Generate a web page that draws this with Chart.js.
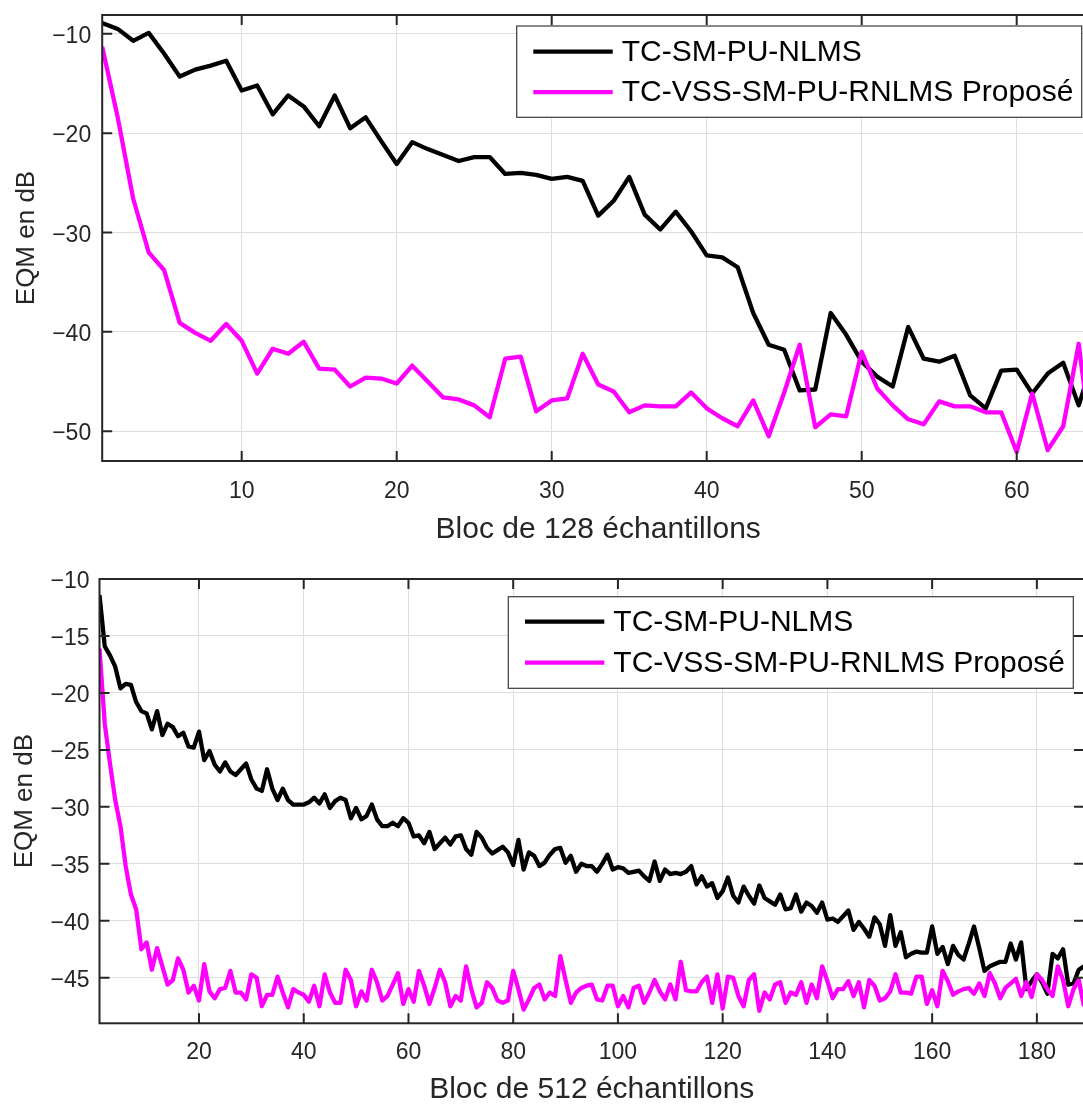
<!DOCTYPE html>
<html>
<head>
<meta charset="utf-8">
<script src="https://cdn.jsdelivr.net/npm/chart.js@4.4.1/dist/chart.umd.min.js"></script>
<style>
  html, body { margin: 0; padding: 0; background: #ffffff; overflow: hidden; }
  #page { position: relative; width: 1083px; height: 1104px; overflow: hidden; background: #ffffff; }
  #page canvas { position: absolute; left: 0; }
  #c128 { top: 0; }
  #c512 { top: 550px; }
</style>
</head>
<body>
<div id="page">
  <canvas id="c128" width="1100" height="550"></canvas>
  <canvas id="c512" width="1100" height="574"></canvas>
</div>
<script>
// Series names, axis titles and tick values
const seriesNames = ['TC-SM-PU-NLMS', 'TC-VSS-SM-PU-RNLMS Proposé'];
const yTitle = 'EQM en dB';
const xTitle128 = 'Bloc de 128 échantillons';
const xTitle512 = 'Bloc de 512 échantillons';

const ticksX128 = [10, 20, 30, 40, 50, 60];
const ticksY128 = [-10, -20, -30, -40, -50];
const ticksX512 = [20, 40, 60, 80, 100, 120, 140, 160, 180];
const ticksY512 = [-10, -15, -20, -25, -30, -35, -40, -45];

// EQM (dB) per block, blocks of 128 samples
const eqm128Nlms = [
  -8.9, -9.5, -10.7, -9.9, -12.0, -14.3, -13.6, -13.2, -12.7, -15.7,
  -15.2, -18.1, -16.2, -17.3, -19.3, -16.2, -19.5, -18.4, -20.8, -23.1,
  -20.9, -21.6, -22.2, -22.8, -22.4, -22.4, -24.1, -24.0, -24.2, -24.6,
  -24.4, -24.8, -28.3, -26.8, -24.4, -28.2, -29.7, -27.9, -29.9, -32.3,
  -32.5, -33.5, -38.1, -41.3, -41.8, -45.9, -45.8, -38.1, -40.3, -43.0,
  -44.5, -45.5, -39.5, -42.7, -43.0, -42.4, -46.4, -47.7, -43.9, -43.8,
  -46.2, -44.2, -43.1, -47.4, -42.5
];
const eqm128Rnlms = [
  -11.3, -18.4, -26.6, -32.0, -33.8, -39.1, -40.1, -40.9, -39.2, -40.9,
  -44.2, -41.7, -42.2, -41.0, -43.7, -43.8, -45.5, -44.6, -44.7, -45.2,
  -43.4, -45.0, -46.6, -46.8, -47.4, -48.6, -42.7, -42.5, -48.0, -46.9,
  -46.7, -42.2, -45.3, -46.0, -48.1, -47.4, -47.5, -47.5, -46.1, -47.7,
  -48.7, -49.5, -46.9, -50.5, -46.1, -41.3, -49.6, -48.3, -48.5, -42.0,
  -45.7, -47.4, -48.8, -49.3, -47.0, -47.5, -47.5, -48.1, -48.1, -52.1,
  -46.2, -51.9, -49.5, -41.2, -53.5
];

// EQM (dB) per block, blocks of 512 samples
const eqm512Nlms = [
  -11.4, -15.9, -16.7, -17.7, -19.6, -19.2, -19.3, -20.8, -21.6, -21.8,
  -23.2, -21.6, -23.7, -22.7, -23.0, -23.8, -23.5, -24.7, -24.8, -23.4,
  -25.9, -25.1, -26.3, -26.9, -26.1, -26.9, -27.2, -26.7, -26.2, -27.6,
  -28.4, -28.6, -26.7, -28.4, -29.4, -28.4, -29.4, -29.8, -29.8, -29.8,
  -29.6, -29.2, -29.7, -28.9, -30.1, -29.5, -29.2, -29.4, -31.0, -30.1,
  -31.1, -30.8, -29.8, -31.1, -31.7, -31.7, -31.4, -31.7, -31.0, -31.4,
  -32.6, -32.5, -33.2, -32.2, -33.7, -33.2, -32.7, -33.3, -32.6, -32.5,
  -33.7, -34.2, -32.2, -32.7, -33.6, -34.1, -33.8, -33.5, -34.0, -35.1,
  -32.9, -35.5, -34.0, -34.3, -35.2, -34.9, -34.2, -33.7, -33.6, -34.9,
  -34.3, -35.7, -35.0, -35.2, -35.2, -35.7, -35.0, -34.2, -35.5, -35.3,
  -35.4, -35.8, -35.7, -35.6, -36.1, -36.5, -34.8, -36.5, -35.5, -35.9,
  -35.8, -35.9, -35.7, -35.2, -36.8, -36.1, -37.0, -36.7, -38.0, -37.4,
  -36.2, -37.8, -38.4, -37.0, -37.8, -38.5, -36.9, -38.0, -38.3, -38.6,
  -37.7, -39.0, -38.9, -37.7, -39.2, -38.4, -38.7, -39.3, -38.4, -39.9,
  -39.8, -40.1, -39.6, -39.1, -40.8, -40.1, -40.7, -41.4, -39.7, -40.3,
  -42.2, -39.5, -42.2, -41.0, -43.2, -42.9, -42.7, -42.8, -42.8, -40.5,
  -42.9, -42.3, -43.8, -42.2, -43.0, -43.4, -42.0, -40.5, -42.4, -44.4,
  -44.0, -43.8, -43.6, -43.6, -42.0, -43.4, -41.9, -46.0, -45.3, -44.7,
  -45.4, -46.4, -42.9, -43.3, -42.5, -45.6, -45.5, -44.3, -44.0
];
const eqm512Rnlms = [
  -16.1, -22.7, -26.2, -29.4, -31.7, -35.2, -37.7, -39.0, -42.5, -41.9,
  -44.3, -42.4, -44.0, -45.6, -45.2, -43.3, -44.3, -46.3, -45.7, -47.0,
  -43.8, -46.2, -46.8, -46.0, -45.9, -44.4, -46.3, -46.3, -46.9, -44.7,
  -45.0, -47.5, -46.5, -46.5, -44.9, -46.3, -47.6, -46.0, -46.3, -46.5,
  -47.1, -45.7, -47.5, -44.7, -46.3, -47.2, -47.2, -44.3, -45.2, -47.5,
  -46.2, -47.0, -44.3, -45.4, -47.0, -46.6, -45.6, -44.6, -47.3, -46.0,
  -47.1, -44.4, -45.7, -47.3, -45.9, -44.3, -45.4, -47.5, -46.6, -47.0,
  -44.0, -46.0, -47.6, -47.2, -45.4, -45.9, -47.0, -47.2, -47.0, -44.4,
  -46.0, -47.8, -46.9, -45.9, -45.6, -46.9, -46.3, -46.6, -43.1, -45.2,
  -47.2, -46.3, -45.9, -45.7, -45.6, -46.9, -47.0, -45.7, -45.7, -47.5,
  -46.6, -47.6, -45.9, -45.7, -47.2, -46.3, -45.2, -46.2, -46.9, -45.6,
  -46.9, -43.6, -46.1, -46.2, -46.2, -45.4, -44.9, -47.2, -44.7, -47.7,
  -44.9, -45.0, -46.6, -47.5, -45.2, -44.7, -47.9, -46.3, -46.9, -45.6,
  -45.4, -47.2, -46.3, -46.5, -45.4, -47.2, -45.6, -46.8, -44.0, -45.3,
  -46.8, -46.0, -46.0, -45.3, -46.6, -45.4, -47.6, -45.2, -45.7, -47.0,
  -46.8, -46.2, -44.7, -46.3, -46.3, -46.4, -44.9, -44.9, -47.3, -46.1,
  -47.5, -44.4, -45.3, -46.5, -46.2, -46.0, -45.9, -46.4, -45.5, -46.6,
  -44.6, -45.5, -46.8, -45.9, -45.5, -45.1, -46.6, -45.4, -46.7, -44.7,
  -45.2, -46.0, -46.6, -44.0, -45.2, -47.5, -46.0, -45.2, -47.5
];

const FONT = "'Liberation Sans', Arial, Helvetica, sans-serif";
const AXIS_COLOR = '#262626';
const GRID_COLOR = '#dedede';
const COLORS = ['#000000', '#ff00ff'];
const LINE_WIDTH = 4.3;
const TICK_FONT_SIZE = 23;

// One point per block: block number on x, EQM on y
const toPoints = values => values.map((v, k) => ({ x: k + 1, y: v }));
const fmtTick = v => String(v).replace('-', '\u2212');

// Axes box with inward ticks on all four sides, plus the boxed legend
const axesBox = {
  id: 'axesBox',
  afterDatasetsDraw(chart, args, opts) {
    const { ctx, chartArea: a, scales: { x, y } } = chart;
    const L = 10;
    ctx.save();
    ctx.strokeStyle = AXIS_COLOR;
    ctx.lineWidth = 2;
    ctx.lineCap = 'butt';
    ctx.beginPath();
    x.ticks.forEach(t => {
      const px = x.getPixelForValue(t.value);
      ctx.moveTo(px, a.bottom); ctx.lineTo(px, a.bottom - L);
      ctx.moveTo(px, a.top); ctx.lineTo(px, a.top + L);
    });
    y.ticks.forEach(t => {
      const py = y.getPixelForValue(t.value);
      ctx.moveTo(a.left, py); ctx.lineTo(a.left + L, py);
      ctx.moveTo(a.right, py); ctx.lineTo(a.right - L, py);
    });
    ctx.stroke();
    ctx.strokeRect(a.left, a.top, a.right - a.left, a.bottom - a.top);

    // legend
    const lg = opts.legend;
    ctx.fillStyle = '#ffffff';
    ctx.fillRect(lg.x, lg.y, lg.w, lg.h);
    ctx.strokeStyle = '#3a3a3a';
    ctx.lineWidth = 1.2;
    ctx.strokeRect(lg.x, lg.y, lg.w, lg.h);
    ctx.font = lg.fontSize + 'px ' + FONT;
    ctx.textAlign = 'left';
    ctx.textBaseline = 'middle';
    lg.rows.forEach((rowY, i) => {
      const ds = chart.data.datasets[i];
      ctx.strokeStyle = ds.borderColor;
      ctx.lineWidth = LINE_WIDTH;
      ctx.beginPath();
      ctx.moveTo(lg.lineX, rowY);
      ctx.lineTo(lg.lineX + lg.lineLen, rowY);
      ctx.stroke();
      ctx.fillStyle = '#000000';
      ctx.fillText(ds.label, lg.textX, rowY + lg.textDy);
    });
    ctx.restore();
  }
};

function makeChart(id, cfg) {
  return new Chart(document.getElementById(id), {
    type: 'line',
    data: {
      datasets: [
        { label: seriesNames[0], data: toPoints(cfg.nlms), borderColor: COLORS[0], borderWidth: LINE_WIDTH,
          pointRadius: 0, fill: false, tension: 0, order: 1, borderJoinStyle: 'round' },
        { label: seriesNames[1], data: toPoints(cfg.rnlms), borderColor: COLORS[1], borderWidth: LINE_WIDTH,
          pointRadius: 0, fill: false, tension: 0, order: 0, borderJoinStyle: 'round' }
      ]
    },
    options: {
      responsive: false,
      animation: false,
      events: [],
      layout: { padding: cfg.padding },
      plugins: {
        legend: { display: false },
        tooltip: { enabled: false },
        axesBox: { legend: cfg.legend }
      },
      scales: {
        x: {
          type: 'linear',
          min: cfg.xMin, max: cfg.xMax,
          afterBuildTicks: s => { s.ticks = cfg.xTicks.map(v => ({ value: v })); },
          afterFit: s => { s.height = cfg.xHeight; s.paddingLeft = 0; s.paddingRight = 0; },
          grid: { color: GRID_COLOR, lineWidth: 1, drawTicks: false },
          border: { display: false },
          ticks: { autoSkip: false, maxRotation: 0, padding: cfg.xTickPad, color: AXIS_COLOR,
                   font: { family: FONT, size: TICK_FONT_SIZE }, callback: fmtTick },
          title: { display: true, text: cfg.xTitle, color: AXIS_COLOR,
                   font: { family: FONT, size: cfg.xTitleSize },
                   padding: { top: 0, bottom: cfg.xTitlePad } }
        },
        y: {
          type: 'linear',
          min: cfg.yMin, max: cfg.yMax,
          afterBuildTicks: s => { s.ticks = cfg.yTicks.map(v => ({ value: v })); },
          afterFit: s => { s.width = cfg.yWidth; s.paddingTop = 0; s.paddingBottom = 0; },
          grid: { color: GRID_COLOR, lineWidth: 1, drawTicks: false },
          border: { display: false },
          ticks: { autoSkip: false, padding: cfg.yTickPad, labelOffset: 2.7, color: AXIS_COLOR,
                   font: { family: FONT, size: TICK_FONT_SIZE }, callback: fmtTick },
          title: { display: true, text: yTitle, color: AXIS_COLOR,
                   font: { family: FONT, size: 26 },
                   padding: { top: cfg.yTitlePad, bottom: 0 } }
        }
      }
    },
    plugins: [axesBox]
  });
}

makeChart('c128', {
  nlms: eqm128Nlms, rnlms: eqm128Rnlms,
  xMin: 1, xMax: 65, yMin: -53, yMax: -8.1,
  xTicks: ticksX128, yTicks: ticksY128,
  xTitle: xTitle128, xTitleSize: 30,
  padding: { left: 0, right: 5.8, top: 15, bottom: 0 },
  yWidth: 102.2, xHeight: 89,
  xTickPad: 17, yTickPad: 11, xTitlePad: 2, yTitlePad: 11,
  legend: { x: 516.7, y: 26, w: 565, h: 91.3, lineX: 533.3, lineLen: 79.4,
            rows: [51.7, 92.1], textX: 621.7, textDy: 1, fontSize: 30 }
});

makeChart('c512', {
  nlms: eqm512Nlms, rnlms: eqm512Rnlms,
  xMin: 1, xMax: 189, yMin: -49, yMax: -10,
  xTicks: ticksX512, yTicks: ticksY512,
  xTitle: xTitle512, xTitleSize: 30,
  padding: { left: 0, right: 16, top: 29, bottom: 0 },
  yWidth: 99.5, xHeight: 100.7,
  xTickPad: 16, yTickPad: 10, xTitlePad: 16.7, yTitlePad: 9,
  legend: { x: 508.3, y: 46.7, w: 565, h: 91.6, lineX: 525, lineLen: 79.3,
            rows: [71.7, 112.7], textX: 613.3, textDy: 1, fontSize: 30 }
});
</script>
</body>
</html>
